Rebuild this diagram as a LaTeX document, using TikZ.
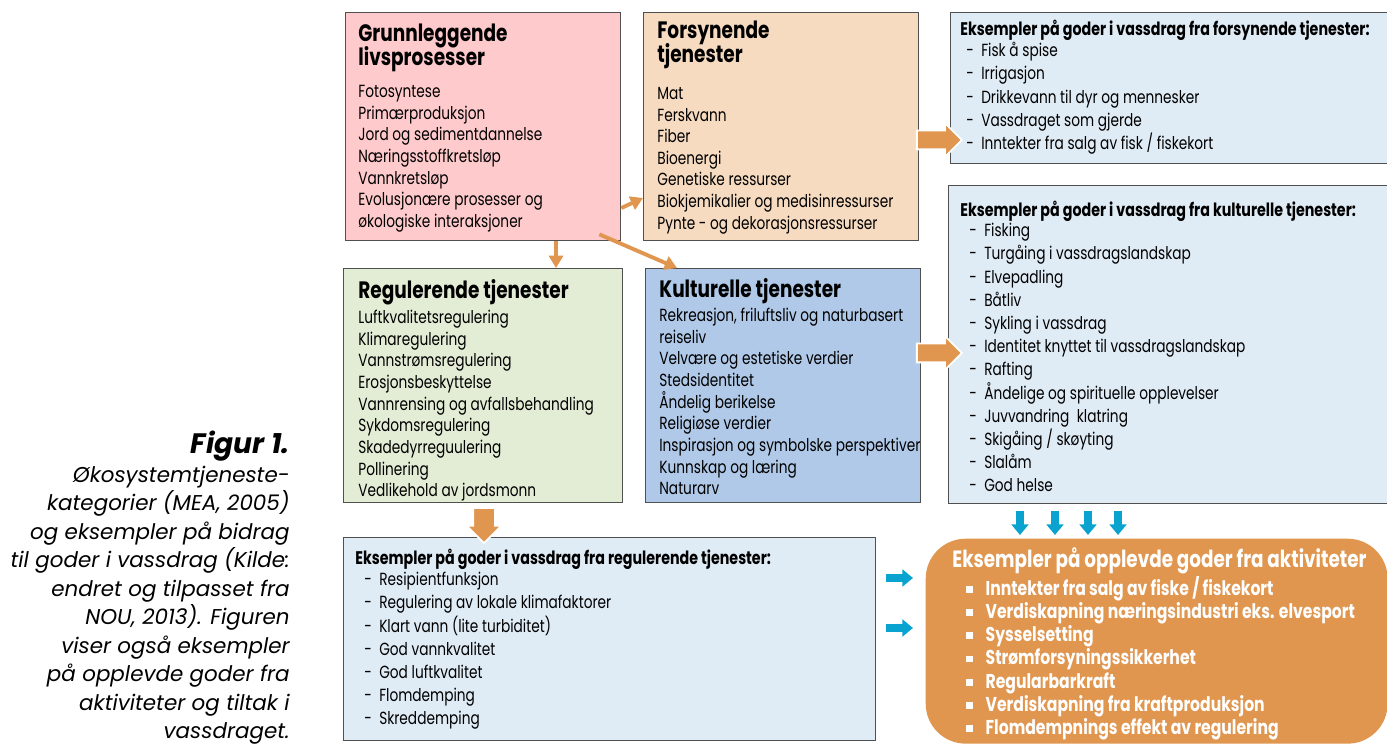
\documentclass[tikz,border=0pt]{standalone}
\usepackage{fontspec}
\setmainfont{Poppins}[FakeStretch=0.78]
\newfontfamily\capfont{Poppins}
\usetikzlibrary{positioning,calc,arrows.meta,shapes.arrows}

\definecolor{pinkbox}{HTML}{FFCACC}
\definecolor{peachbox}{HTML}{F7DBC1}
\definecolor{greenbox}{HTML}{E3EDD6}
\definecolor{bluebox}{HTML}{B0C9E8}
\definecolor{exbox}{HTML}{DFEBF5}
\definecolor{orng}{HTML}{E0964F}
\definecolor{cyanarr}{HTML}{0AA3CF}
\definecolor{boxline}{HTML}{505050}

\lineskiplimit=-\maxdimen
\newcommand{\dashitem}[1]{\makebox[8.5pt][l]{-}#1}
\newcommand{\sqitem}[1]{\makebox[11pt][l]{\raisebox{1.5pt}{\rule{3.8pt}{3.8pt}}}#1}

\tikzset{
  box/.style={draw=boxline, line width=0.8pt, anchor=north west, inner sep=0pt},
  head/.style={anchor=north west, inner sep=0pt, align=left, font=\fontsize{13.5}{13.7}\selectfont\bfseries},
  body/.style={anchor=north west, inner sep=0pt, align=left, font=\fontsize{10}{12.3}\selectfont},
  exhead/.style={anchor=north west, inner sep=0pt, align=left, font=\fontsize{10.4}{12}\selectfont\bfseries},
  exbody/.style={anchor=north west, inner sep=0pt, align=left, font=\fontsize{10}{13.2}\selectfont},
  thinarr/.style={draw=orng, line width=2.2pt, -{Triangle[length=7pt,width=8pt]}},
  fatarr/.style={single arrow, fill=orng, draw=white, line width=1pt, inner xsep=0pt, inner ysep=0.17cm,
    single arrow head extend=0.15cm, minimum height=0.9cm},
  bluearr/.style={draw=cyanarr, line width=4pt, -{Triangle[length=6pt,width=9.5pt]}}
}

\begin{document}
\begin{tikzpicture}[x=0.02cm, y=-0.02cm]
\clip (0,0) rectangle (1387,746);

% category boxes
\node[box, fill=pinkbox, minimum width=5.5cm, minimum height=4.56cm] (grunn) at (345,12) {};
\node[box, fill=peachbox, minimum width=5.5cm, minimum height=4.56cm] (forsyn) at (643,12) {};
\node[box, fill=greenbox, minimum width=5.58cm, minimum height=4.68cm] (regul) at (343,268) {};
\node[box, fill=bluebox, minimum width=5.5cm, minimum height=4.68cm] (kultur) at (645,268) {};

% example boxes
\node[box, fill=exbox, minimum width=9cm, minimum height=3.02cm] (forsynEx) at (950,12) {};
\node[box, fill=exbox, minimum width=9.04cm, minimum height=6.36cm] (kulturEx) at (948,185) {};
\node[box, fill=exbox, minimum width=10.64cm, minimum height=4.06cm] (regulEx) at (343,537) {};
\node[box, draw=none, fill=orng, rounded corners=0.8cm, minimum width=9.24cm, minimum height=4.1cm] (goder) at (925,538) {};

% texts
\node[head] (grunnHead) at ([shift={(13,12)}]grunn.north west) {Grunnleggende\\livsprosesser};
\node[body] (grunnBody) at ([shift={(13,73)}]grunn.north west)
  {Fotosyntese\\Primærproduksjon\\Jord og sedimentdannelse\\Næringsstoffkretsløp\\Vannkretsløp\\Evolusjonære prosesser og\\økologiske interaksjoner};

\node[head] (forsynHead) at ([shift={(14,9)}]forsyn.north west) {Forsynende\\tjenester};
\node[body] (forsynBody) at ([shift={(14,75)}]forsyn.north west)
  {Mat\\Ferskvann\\Fiber\\Bioenergi\\Genetiske ressurser\\Biokjemikalier og medisinressurser\\Pynte - og dekorasjonsressurser};

\node[head] (regulHead) at ([shift={(15,11)}]regul.north west) {Regulerende tjenester};
\node[body] (regulBody) at ([shift={(15,42)}]regul.north west)
  {Luftkvalitetsregulering\\Klimaregulering\\Vannstrømsregulering\\Erosjonsbeskyttelse\\Vannrensing og avfallsbehandling\\Sykdomsregulering\\Skadedyrreguulering\\Pollinering\\Vedlikehold av jordsmonn};

\node[head] (kulturHead) at ([shift={(14,10)}]kultur.north west) {Kulturelle tjenester};
\node[body] (kulturBody) at ([shift={(14,40)}]kultur.north west)
  {Rekreasjon, friluftsliv og naturbasert\\reiseliv\\Velvære og estetiske verdier\\Stedsidentitet\\Åndelig berikelse\\Religiøse verdier\\Inspirasjon og symbolske perspektiver\\Kunnskap og læring\\Naturarv};

\node[exhead] (forsynExHead) at ([shift={(10,8)}]forsynEx.north west) {Eksempler på goder i vassdrag fra forsynende tjenester:};
\node[exbody] (forsynExBody) at ([shift={(16,30)}]forsynEx.north west)
  {\dashitem{Fisk å spise}\\\dashitem{Irrigasjon}\\\dashitem{Drikkevann til dyr og mennesker}\\\dashitem{Vassdraget som gjerde}\\\dashitem{Inntekter fra salg av fisk / fiskekort}};

\node[exhead] (kulturExHead) at ([shift={(12,16)}]kulturEx.north west) {Eksempler på goder i vassdrag fra kulturelle tjenester:};
\node[exbody] (kulturExBody) at ([shift={(21,38)}]kulturEx.north west)
  {\dashitem{Fisking}\\\dashitem{Turgåing i vassdragslandskap}\\\dashitem{Elvepadling}\\\dashitem{Båtliv}\\\dashitem{Sykling i vassdrag}\\\dashitem{Identitet knyttet til vassdragslandskap}\\\dashitem{Rafting}\\\dashitem{Åndelige og spirituelle opplevelser}\\\dashitem{Juvvandring\ \ klatring}\\\dashitem{Skigåing / skøyting}\\\dashitem{Slalåm}\\\dashitem{God helse}};

\node[exhead] (regulExHead) at ([shift={(12,12)}]regulEx.north west) {Eksempler på goder i vassdrag fra regulerende tjenester:};
\node[exbody] (regulExBody) at ([shift={(21,35)}]regulEx.north west)
  {\dashitem{Resipientfunksjon}\\\dashitem{Regulering av lokale klimafaktorer}\\\dashitem{Klart vann (lite turbiditet)}\\\dashitem{God vannkvalitet}\\\dashitem{God luftkvalitet}\\\dashitem{Flomdemping}\\\dashitem{Skreddemping}};

\node[anchor=north west, inner sep=0pt, text=white, font=\fontsize{13.4}{14}\selectfont\bfseries] (goderHead)
  at ([shift={(27,9)}]goder.north west) {Eksempler på opplevde goder fra aktiviteter};
\node[anchor=north west, inner sep=0pt, align=left, text=white, font=\fontsize{11.4}{13.2}\selectfont\bfseries] (goderBody)
  at ([shift={(41,38)}]goder.north west)
  {\sqitem{Inntekter fra salg av fiske / fiskekort}\\\sqitem{Verdiskapning næringsindustri eks. elvesport}\\\sqitem{Sysselsetting}\\\sqitem{Strømforsyningssikkerhet}\\\sqitem{Regularbarkraft}\\\sqitem{Verdiskapning fra kraftproduksjon}\\\sqitem{Flomdempnings effekt av regulering}};

% caption
\node[anchor=north east, inner sep=0pt, align=right, font=\capfont\fontsize{12.2}{16.2}\selectfont\itshape] (caption) at (290,431)
  {{\bfseries\fontsize{16}{16.2}\selectfont Figur 1.}\\Økosystemtjeneste-\\kategorier (MEA, 2005)\\og eksempler på bidrag\\til goder i vassdrag (Kilde:\\endret og tilpasset fra\\NOU, 2013). Figuren\\viser også eksempler\\på opplevde goder fra\\aktiviteter og tiltak i\\vassdraget.};

% thin arrows
\draw[thinarr] (grunn.east |- 0,208) -- (forsyn.west |- 0,198);
\draw[thinarr] (556,0 |- grunn.south) -- (556,0 |- regul.north);
\draw[thinarr] ([shift={(-22,-7)}]grunn.south east) -- (677,0 |- kultur.north);

% block arrows
\node[fatarr] (fa1) at ($(forsyn.east |- 0,140)!0.5!(forsynEx.west |- 0,140)$) {};
\node[fatarr] (fa2) at ($(kultur.east |- 0,353)!0.5!(kulturEx.west |- 0,353)$) {};
\node[fatarr, rotate=-90, minimum height=0.7cm, inner ysep=0.2cm, single arrow head extend=0.13cm] (fa3)
  at ($(484,0 |- regul.south)!0.5!(484,0 |- regulEx.north)$) {};

% blue arrows
\foreach \x in {1020,1055,1088,1118}
  \draw[bluearr, shorten <=7*0.02cm, shorten >=3*0.02cm] (kulturEx.south -| \x,0) -- (goder.north -| \x,0);
\foreach \y in {578,628}
  \draw[bluearr, shorten <=10*0.02cm, shorten >=12*0.02cm] (regulEx.east |- 0,\y) -- (goder.west |- 0,\y);
\end{tikzpicture}
\end{document}
